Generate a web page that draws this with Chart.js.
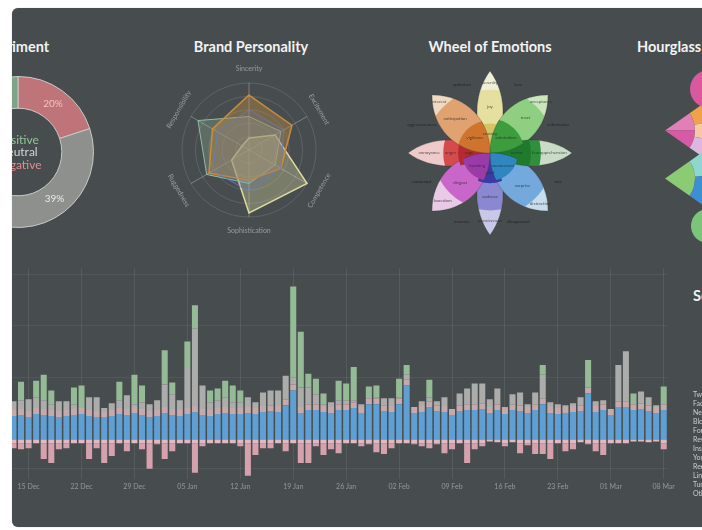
<!DOCTYPE html>
<html>
<head>
<meta charset="utf-8">
<script src="https://cdn.jsdelivr.net/npm/chart.js@4.4.1/dist/chart.umd.min.js"></script>
<style>
  html, body { margin: 0; padding: 0; background: #ffffff; width: 702px; height: 530px; overflow: hidden; font-family: Lato, "Open Sans", sans-serif; }
  #panel { position: absolute; left: 12px; top: 8px; width: 710px; height: 519px; background: #474c4e; border-radius: 6px; overflow: hidden; box-shadow: 0 0 1px rgba(0,0,0,0.4); }
  .title { position: absolute; color: #f2f2f2; font-weight: 700; font-size: 14.5px; line-height: 16px; white-space: nowrap; }
  .center { transform: translateX(-50%); }
  canvas { position: absolute; }
  #legend { position: absolute; left: 681px; top: 382px; }
  #legend div { font-size: 7px; line-height: 9px; color: #c9cbcb; white-space: nowrap; }
</style>
</head>
<body>
<div id="panel">
  <div class="title center" style="left:4px; top:31px;">Sentiment</div>
  <div class="title center" style="left:239px; top:31px;">Brand Personality</div>
  <div class="title center" style="left:478px; top:31px;">Wheel of Emotions</div>
  <div class="title" style="left:625px; top:31px;">Hourglass of Emotions</div>
  <div class="title" style="left:681px; top:280px;">Sources</div>

  <canvas id="sentiment" width="152" height="152" style="left:-70px; top:68px;"></canvas>
  <canvas id="brand" width="190" height="190" style="left:142px; top:47px;"></canvas>
  <canvas id="wheel" width="180" height="180" style="left:388px; top:55px;"></canvas>
  <canvas id="fanTop" width="60" height="69" style="left:653px; top:88px;"></canvas>
  <canvas id="fanBottom" width="60" height="69" style="left:653px; top:136px;"></canvas>
  <canvas id="ballTop" width="38" height="38" style="left:678px; top:62px;"></canvas>
  <canvas id="ballBottom" width="34" height="34" style="left:679px; top:201px;"></canvas>
  <canvas id="timeline" width="680" height="237" style="left:-12px; top:250px;"></canvas>
  <div id="legend"></div>
</div>

<script>
(function() {
  "use strict";

  // ===== Sentiment (doughnut) =====
  var sentimentLabels = ["Negative", "Neutral", "Positive"];
  var sentimentValues = [20, 39, 41];
  var sentimentColors = ["#bf7479", "#8d908c", "#7fa386"];
  var sentimentTextColors = ["#e38d8f", "#d3d4d0", "#8fc596"];

  // ===== Brand Personality (radar) =====
  var brandAxes = ["Sincerity", "Excitement", "Competence", "Sophistication", "Ruggedness", "Responsibility"];
  var brandA = [82, 74, 55, 45, 69, 63];
  var brandB = [50, 55, 45, 50, 73, 88];
  var brandC = [18, 45, 100, 94, 30, 12];
  var brandD = [60, 60, 55, 62, 62, 55];

  // ===== Wheel of Emotions (polar area, drawn as petals) =====
  var emotions = ["Joy", "Trust", "Fear", "Surprise", "Sadness", "Disgust", "Anger", "Anticipation"];
  var emotionOuter = [100, 100, 100, 100, 100, 100, 100, 100];
  var emotionMid = [77, 80, 62, 78, 70, 69, 57, 80];
  var emotionInner = [36, 42, 50, 34, 37, 34, 39, 40];
  var wordsOuter = ["serenity", "acceptance", "apprehension", "distraction", "pensiveness", "boredom", "annoyance", "interest"];
  var wordsMid = ["joy", "trust", "fear", "surprise", "sadness", "disgust", "anger", "anticipation"];
  var wordsInner = ["ecstasy", "admiration", "terror", "amazement", "grief", "loathing", "rage", "vigilance"];
  var dyads = ["love", "submission", "awe", "disapproval", "remorse", "contempt", "aggressiveness", "optimism"];
  var colorsOuter = ["#efeed6", "#cbe6bd", "#c9dcc7", "#c7dced", "#c9c8e8", "#e8c9e6", "#efcaca", "#efd9c2"];
  var colorsMid = ["#e5e0a0", "#8fcf82", "#2f8f3c", "#73a9dc", "#8a88d0", "#c966c9", "#d54a4a", "#e0a271"];
  var colorsInner = ["#d6c466", "#3c9c3e", "#1f7a2e", "#2f86c1", "#3b3ba6", "#9a3ba8", "#b42a30", "#cf742e"];

  // ===== Hourglass =====
  var hgFanTopOuter = [34, 33, 33];
  var hgFanTopInner = [50, 50];
  var hgFanBottomOuter = [45, 55];
  var hgFanBottomInner = [100];
  var hgBallTop = [50, 30, 20];
  var hgBallBottom = [55, 45];

  // ===== Timeline (stacked bars) =====
  var xTickLabels = ["15 Dec", "22 Dec", "29 Dec", "05 Jan", "12 Jan", "19 Jan", "26 Jan",
    "02 Feb", "09 Feb", "16 Feb", "23 Feb", "01 Mar", "08 Mar"];
  var firstDay = new Date(2015, 11, 13);
  var dayCount = 87;
  var yGridValues = [-30, 10, 63, 116, 168];

  var greenVals = [
    0, 19, 0, 17, 26, 14, 0, 0, 17, 22,
    0, 0, 0, 0, 19, 0, 30, 17, 0, 0,
    35, 12, 0, 27, 24, 0, 12, 12, 17, 17,
    12, 0, 0, 0, 0, 0, 0, 93, 57, 14,
    16, 11, 0, 20, 17, 34, 0, 12, 12, 0,
    0, 19, 10, 0, 0, 18, 0, 0, 0, 0,
    0, 0, 0, 0, 0, 0, 0, 0, 0, 0,
    10, 0, 0, 0, 0, 0, 28, 0, 0, 0,
    0, 0, 11, 0, 0, 0, 18];
  var greyVals = [
    9, 9, 12, 11, 9, 6, 10, 9, 5, 1,
    13, 14, 4, 7, 8, 14, 3, 7, 7, 10,
    23, 15, 10, 41, 79, 24, 8, 8, 10, 6,
    6, 10, 6, 14, 15, 16, 24, 7, 20, 17,
    10, 2, 5, 4, 4, 2, 3, 0, 1, 7,
    8, 1, 5, 0, 5, 4, 4, 9, 0, 12,
    16, 21, 20, 8, 16, 1, 10, 13, 3, 12,
    24, 5, 4, 2, 3, 8, 0, 5, 4, 0,
    37, 51, 0, 12, 8, 2, 0];
  var roseVals = [
    6, 6, 6, 6, 6, 6, 6, 6, 6, 6,
    6, 6, 6, 6, 6, 6, 6, 6, 6, 6,
    6, 6, 6, 6, 6, 6, 6, 6, 6, 6,
    6, 6, 6, 6, 6, 6, 6, 6, 6, 6,
    6, 6, 6, 6, 6, 6, 6, 6, 6, 6,
    6, 6, 6, 6, 6, 6, 6, 6, 6, 6,
    6, 6, 6, 6, 6, 6, 6, 6, 6, 6,
    6, 6, 6, 6, 6, 6, 6, 6, 6, 6,
    6, 6, 6, 6, 6, 6, 6];
  var blueVals = [
    24, 25, 23, 26, 25, 24, 23, 24, 25, 26,
    24, 23, 22, 24, 26, 25, 27, 25, 23, 24,
    27, 25, 24, 26, 28, 25, 24, 26, 27, 26,
    26, 27, 26, 28, 29, 28, 35, 50, 27, 30,
    30, 28, 27, 30, 30, 32, 27, 36, 36, 29,
    28, 36, 55, 27, 28, 33, 29, 28, 25, 29,
    30, 30, 31, 27, 30, 26, 30, 29, 27, 30,
    36, 27, 26, 27, 28, 29, 47, 28, 30, 25,
    33, 33, 30, 31, 29, 27, 30];
  var negLightVals = [
    -4, -4, -4, -4, -4, -4, -4, -4, -4, -4,
    -4, -4, -4, -4, -4, -4, -4, -4, -4, -4,
    -4, -4, -4, -4, -4, -4, -4, -4, -4, -4,
    -4, -4, -4, -4, -4, -4, -4, -4, -4, -4,
    -4, -4, -4, -4, -4, -4, -4, -4, -4, -4,
    -4, -4, -4, -4, -4, -4, -4, -4, -4, -4,
    -4, -4, -4, -2, -3, -4, -3, -4, -4, -4,
    -4, -4, -4, -4, -4, -3, -4, -4, -4, -4,
    -4, -4, -2, -2, -3, -2, -4];
  var negDeepVals = [
    -5, -6, -5, 0, -16, -20, -6, -5, 0, 0,
    -16, -5, -20, -13, 0, -8, 0, -6, -26, -1,
    -16, -8, 0, 0, -30, -3, 0, 0, 0, 0,
    -3, -33, -12, -5, -5, 0, -8, 0, -20, -20,
    -3, -12, -6, -10, 0, 0, -3, -1, -9, -11,
    -5, 0, 0, -1, -3, -5, -1, -10, -6, 0,
    -20, -6, -3, 0, 0, -3, 0, -10, -2, -11,
    -11, -16, 0, -8, -6, 0, -1, -8, -12, 0,
    0, 0, 0, 0, 0, 0, -6];

  var sourceNames = ["Twitter", "Facebook", "News", "Blogs", "Forums", "Reviews",
    "Instagram", "YouTube", "Reddit", "LinkedIn", "Tumblr", "Other"];

  // ===== Helpers =====
  var MONTHS = ["Jan", "Feb", "Mar", "Apr", "May", "Jun", "Jul", "Aug", "Sep", "Oct", "Nov", "Dec"];
  function pad(n) { return n < 10 ? "0" + n : "" + n; }

  var dayLabels = [];
  for (var d = 0; d < dayCount; d++) {
    var dt = new Date(firstDay.getFullYear(), firstDay.getMonth(), firstDay.getDate() + d);
    dayLabels.push(pad(dt.getDate()) + " " + MONTHS[dt.getMonth()]);
  }

  Chart.defaults.font.family = "Lato, 'Open Sans', sans-serif";
  Chart.defaults.animation = false;
  Chart.defaults.plugins.legend.display = false;
  Chart.defaults.plugins.tooltip.enabled = false;

  // ===== Sentiment =====
  var sentimentText = {
    id: "sentimentText",
    afterDatasetsDraw: function(chart) {
      var ctx = chart.ctx;
      var meta = chart.getDatasetMeta(0);
      ctx.save();
      ctx.textAlign = "center";
      ctx.textBaseline = "middle";
      ctx.font = "10px Lato, sans-serif";
      meta.data.forEach(function(arc, i) {
        var p = arc.tooltipPosition();
        ctx.fillStyle = i === 0 ? "#f0c3c3" : "#ecebe6";
        ctx.fillText(sentimentValues[i] + "%", p.x, p.y);
      });
      var c = meta.data[0];
      ctx.font = "12px Lato, sans-serif";
      var order = [2, 1, 0];
      order.forEach(function(k, j) {
        ctx.fillStyle = sentimentTextColors[k];
        ctx.fillText(sentimentLabels[k], c.x, c.y - 12 + j * 12.5);
      });
      ctx.restore();
    }
  };

  new Chart(document.getElementById("sentiment"), {
    type: "doughnut",
    data: {
      labels: sentimentLabels,
      datasets: [{
        data: sentimentValues,
        backgroundColor: sentimentColors,
        borderColor: "#c9cac6",
        borderWidth: 1
      }]
    },
    options: {
      responsive: false,
      cutout: "58%",
      layout: { padding: 0 }
    },
    plugins: [sentimentText]
  });

  // ===== Brand Personality =====
  var radarLabels = {
    id: "radarLabels",
    afterDraw: function(chart) {
      var scale = chart.scales.r;
      var ctx = chart.ctx;
      ctx.save();
      ctx.font = "7px Lato, sans-serif";
      ctx.fillStyle = "rgba(255,255,255,0.42)";
      ctx.textAlign = "center";
      ctx.textBaseline = "middle";
      brandAxes.forEach(function(label, i) {
        var p = scale.getPointPosition(i, scale.drawingArea + 14);
        var deg = i * 360 / brandAxes.length;
        var rot = deg % 180;
        if (rot > 90) rot -= 180;
        ctx.save();
        ctx.translate(p.x, p.y);
        ctx.rotate(rot * Math.PI / 180);
        ctx.fillText(label, 0, 0);
        ctx.restore();
      });
      ctx.restore();
    }
  };

  new Chart(document.getElementById("brand"), {
    type: "radar",
    data: {
      labels: brandAxes,
      datasets: [
        { data: brandD, borderColor: "rgba(104,124,190,0.8)", backgroundColor: "rgba(100,120,185,0.18)", borderWidth: 1 },
        { data: brandA, borderColor: "#c98c3f", backgroundColor: "rgba(190,140,70,0.42)", borderWidth: 1.5 },
        { data: brandB, borderColor: "rgba(150,200,170,0.9)", backgroundColor: "rgba(150,195,160,0.28)", borderWidth: 1 },
        { data: brandC, borderColor: "#dcdaa0", backgroundColor: "rgba(200,198,150,0.4)", borderWidth: 1.5 }
      ]
    },
    options: {
      responsive: false,
      layout: { padding: 28 },
      elements: { point: { radius: 0 }, line: { tension: 0 } },
      scales: {
        r: {
          min: 0,
          max: 100,
          ticks: { display: false, stepSize: 20 },
          pointLabels: { display: false },
          grid: { circular: true, color: "rgba(255,255,255,0.13)", borderDash: [1, 2] },
          angleLines: { color: "rgba(255,255,255,0.3)" }
        }
      }
    },
    plugins: [radarLabels]
  });

  // ===== Wheel of Emotions =====
  var petalColors = [colorsOuter, colorsMid, colorsInner];
  var petalWords = [wordsOuter, wordsMid, wordsInner];

  function petalPath(ctx, len, wide) {
    var h = len * wide;
    ctx.beginPath();
    ctx.moveTo(0, 0);
    ctx.bezierCurveTo(len * 0.28, -h, len * 0.72, -h, len, 0);
    ctx.bezierCurveTo(len * 0.72, h, len * 0.28, h, 0, 0);
    ctx.closePath();
  }

  var petals = {
    id: "petals",
    afterDatasetsDraw: function(chart) {
      var ctx = chart.ctx;
      var outerMeta = chart.getDatasetMeta(0);
      var drawOrder = [0, 2, 4, 6, 1, 3, 5, 7];
      for (var k = 0; k < chart.data.datasets.length; k++) {
        var meta = chart.getDatasetMeta(k);
        drawOrder.forEach(function(i) {
          var arc = meta.data[i];
          var len = outerMeta.data[i].outerRadius;
          var mid = (arc.startAngle + arc.endAngle) / 2;
          var wide = i % 2 === 0 ? 0.21 : 0.29;
          ctx.save();
          ctx.beginPath();
          ctx.arc(arc.x, arc.y, arc.outerRadius, 0, Math.PI * 2);
          ctx.clip();
          ctx.translate(arc.x, arc.y);
          ctx.rotate(mid);
          petalPath(ctx, len, wide);
          ctx.fillStyle = petalColors[k][i];
          ctx.fill();
          ctx.strokeStyle = "rgba(45,45,45,0.35)";
          ctx.lineWidth = 0.7;
          ctx.stroke();
          ctx.restore();
        });
      }
      // words inside the petal bands
      ctx.save();
      ctx.font = "4.5px Lato, sans-serif";
      ctx.textAlign = "center";
      ctx.textBaseline = "middle";
      ctx.fillStyle = "rgba(40,40,40,0.75)";
      for (var b = 0; b < chart.data.datasets.length; b++) {
        var m = chart.getDatasetMeta(b);
        var inner = b + 1 < chart.data.datasets.length ? chart.getDatasetMeta(b + 1) : null;
        m.data.forEach(function(arc, i) {
          var r0 = inner ? inner.data[i].outerRadius : 0;
          var r = (arc.outerRadius + r0) / 2;
          if (b === 0) r = r0 + (arc.outerRadius - r0) * 0.4;
          if (b === 2) r = arc.outerRadius * 0.65;
          var a = (arc.startAngle + arc.endAngle) / 2;
          ctx.fillText(petalWords[b][i], arc.x + Math.cos(a) * r, arc.y + Math.sin(a) * r);
        });
      }
      // dyads between petals
      ctx.fillStyle = "rgba(30,30,30,0.8)";
      outerMeta.data.forEach(function(arc, i) {
        var a = arc.endAngle;
        var r = arc.outerRadius * 0.9;
        ctx.fillText(dyads[i], arc.x + Math.cos(a) * r, arc.y + Math.sin(a) * r);
      });
      ctx.restore();
    }
  };

  new Chart(document.getElementById("wheel"), {
    type: "polarArea",
    data: {
      labels: emotions,
      datasets: [
        { data: emotionOuter, backgroundColor: "rgba(0,0,0,0)", borderWidth: 0 },
        { data: emotionMid, backgroundColor: "rgba(0,0,0,0)", borderWidth: 0 },
        { data: emotionInner, backgroundColor: "rgba(0,0,0,0)", borderWidth: 0 }
      ]
    },
    options: {
      responsive: false,
      layout: { padding: 8 },
      scales: { r: { display: false, min: 0, max: 100, startAngle: -22.5 } }
    },
    plugins: [petals]
  });

  // ===== Hourglass =====
  function fan(id, outer, inner, outerColors, innerColors) {
    new Chart(document.getElementById(id), {
      type: "doughnut",
      data: {
        datasets: [
          { data: outer, backgroundColor: outerColors, borderWidth: 0 },
          { data: inner, backgroundColor: innerColors, borderWidth: 0 }
        ]
      },
      options: { responsive: false, cutout: 0, rotation: 55, circumference: 70, layout: { padding: 0 } }
    });
  }
  fan("fanTop", hgFanTopOuter, hgFanTopInner, ["#f0a24a", "#f3c9a6", "#dcb7e0"], ["#e37fb7", "#d65aa5"]);
  fan("fanBottom", hgFanBottomOuter, hgFanBottomInner, ["#8fd6cf", "#3d8ed2"], ["#8bcb74"]);

  function ball(id, values, colors, rot) {
    new Chart(document.getElementById(id), {
      type: "pie",
      data: { datasets: [{ data: values, backgroundColor: colors, borderWidth: 0 }] },
      options: { responsive: false, rotation: rot, layout: { padding: 0 } }
    });
  }
  ball("ballTop", hgBallTop, ["#d9599f", "#f0a24a", "#f6c58e"], 180);
  ball("ballBottom", hgBallBottom, ["#3f8fd2", "#7cc47a"], 0);

  // ===== Timeline =====
  function weekGrid(ctx) {
    return xTickLabels.indexOf(dayLabels[ctx.index]) >= 0 ? "rgba(255,255,255,0.08)" : "rgba(0,0,0,0)";
  }

  new Chart(document.getElementById("timeline"), {
    type: "bar",
    data: {
      labels: dayLabels,
      datasets: [
        { label: "Negative", data: negLightVals, backgroundColor: "#e2b9c0" },
        { label: "Very negative", data: negDeepVals, backgroundColor: "#d5a1ac" },
        { label: "Neutral", data: blueVals, backgroundColor: "#5f9fd3" },
        { label: "Mixed", data: roseVals, backgroundColor: "#c6a9aa" },
        { label: "Unclassified", data: greyVals, backgroundColor: "#acacaa" },
        { label: "Positive", data: greenVals, backgroundColor: "#95ba96" }
      ]
    },
    options: {
      responsive: false,
      layout: { padding: { left: 9.7, right: 12.5, top: 10, bottom: 0 } },
      datasets: { bar: { barPercentage: 0.8, categoryPercentage: 1, borderWidth: 0 } },
      scales: {
        x: {
          stacked: true,
          border: { display: false },
          grid: { offset: false, color: weekGrid, drawTicks: false },
          ticks: {
            autoSkip: false,
            maxRotation: 0,
            padding: 4,
            color: "rgba(255,255,255,0.4)",
            font: { size: 7 },
            callback: function(value, index) {
              var l = dayLabels[index];
              return xTickLabels.indexOf(l) >= 0 ? l : "";
            }
          }
        },
        y: {
          stacked: true,
          min: -40,
          max: 175,
          border: { display: false },
          grid: { color: "rgba(255,255,255,0.06)", drawTicks: false },
          ticks: { display: false },
          afterBuildTicks: function(scale) {
            scale.ticks = yGridValues.map(function(v) { return { value: v }; });
          }
        }
      }
    }
  });

  // ===== Sources legend =====
  var legend = document.getElementById("legend");
  sourceNames.forEach(function(name) {
    var el = document.createElement("div");
    el.textContent = name;
    legend.appendChild(el);
  });
})();
</script>
</body>
</html>
